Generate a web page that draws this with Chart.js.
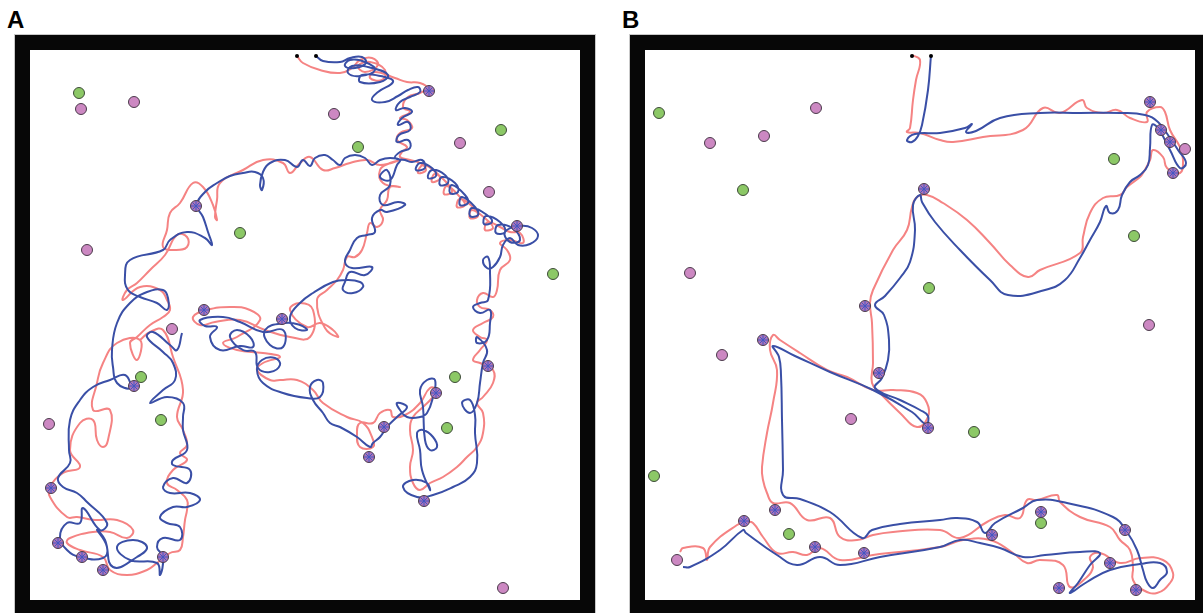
<!DOCTYPE html>
<html>
<head>
<meta charset="utf-8">
<script src="https://cdn.jsdelivr.net/npm/chart.js@4.4.1/dist/chart.umd.min.js"></script>
<style>
  body { margin: 0; background: #fff; width: 1203px; height: 613px; overflow: hidden; position: relative; }
  .label { position: absolute; font-family: "Liberation Sans", Arial, sans-serif; font-weight: bold; font-size: 24px; line-height: 24px; color: #000; }
  .arena { position: absolute; border: 15px solid #070707; box-shadow: 0 0 0 1px #c9c9c9; width: 550px; height: 550px; }
  .arena canvas { display: block; }
</style>
</head>
<body>
<div class="label" style="left:7px; top:8px;">A</div>
<div class="label" style="left:622px; top:8px;">B</div>
<div class="arena" style="left:15px; top:35px;"><canvas id="chartA" width="550" height="550"></canvas></div>
<div class="arena" style="left:630px; top:35px;"><canvas id="chartB" width="550" height="550"></canvas></div>

<script>
// Arena coordinates (0-550, origin top-left)

// ---- Panel A ----
const startA = [[267, 6], [286, 6]];
const greenA = [[49, 43], [328, 97], [471, 80], [210, 183], [523, 224], [111, 327], [425, 327], [131, 370], [417, 378]];
const pinkA = [[51, 59], [104, 52], [304, 64], [430, 93], [459, 142], [57, 200], [142, 279], [19, 374], [473, 538]];
const visitedA = [[399, 41], [166, 156], [487, 176], [174, 260], [252, 269], [458, 316], [104, 336], [406, 343],
  [354, 377], [339, 407], [21, 438], [394, 451], [28, 493], [52, 507], [73, 520], [133, 507]];

const blueA = [
  [286, 6], [293, 11], [310, 12], [320, 8], [332, 7], [336, 13], [325, 18], [315, 16], [320, 10], [335, 12],
  [345, 20], [330, 26], [318, 23], [322, 16], [342, 18], [358, 25], [350, 32], [330, 32], [332, 25], [355, 27],
  [363, 32], [348, 42], [342, 50], [355, 52], [368, 46], [378, 40], [388, 37], [390, 42], [380, 47], [370, 52],
  [366, 60], [375, 58], [382, 62], [372, 68], [368, 75], [378, 72], [380, 80], [369, 85], [367, 92], [378, 90],
  [380, 98], [370, 102], [365, 108], [375, 110],
  [382, 112], [392, 110], [395, 118], [386, 120], [390, 113], [402, 118], [406, 126], [398, 128], [402, 120],
  [415, 125], [418, 133], [410, 135], [412, 127], [425, 133], [428, 142], [420, 143], [422, 135], [435, 145],
  [438, 153], [430, 155], [432, 147], [445, 157], [448, 165], [440, 166], [442, 158], [457, 165], [462, 172],
  [454, 174], [456, 166], [470, 172], [475, 182], [466, 183], [468, 175], [482, 178], [490, 190], [480, 192],
  [475, 182], [490, 176], [502, 178], [508, 186], [500, 194], [488, 195], [480, 188], [473, 195],
  [470, 207], [463, 217], [457, 218], [453, 210], [458, 207], [460, 220], [458, 250], [450, 253], [443, 257],
  [450, 263], [460, 260], [460, 273], [457, 290], [447, 293], [447, 287], [457, 300], [453, 313], [450, 333],
  [447, 353], [440, 363], [432, 353], [440, 350], [445, 365], [445, 383], [447, 413], [440, 427], [423, 437],
  [403, 445], [387, 447], [373, 437], [383, 430], [397, 433], [400, 440], [392, 420], [390, 400], [387, 383],
  [393, 380], [403, 387], [407, 397], [400, 400], [395, 390], [393, 357], [390, 340], [397, 330], [405, 330],
  [403, 347], [397, 363], [390, 367], [377, 367], [370, 360], [367, 353], [377, 357], [367, 367], [357, 377],
  [350, 387], [343, 393], [340, 397], [327, 387], [310, 377], [300, 373], [293, 363], [283, 350], [280, 337],
  [287, 330], [293, 333], [290, 347], [277, 348], [253, 343], [233, 333], [227, 320], [232, 310], [245, 308],
  [250, 315], [240, 322], [228, 318],
  [225, 302], [213, 300], [200, 287], [207, 280], [220, 287], [223, 297], [210, 296], [190, 300], [180, 287],
  [187, 277], [175, 276], [170, 270], [193, 267], [210, 272], [233, 282], [253, 280], [253, 297], [240, 295],
  [235, 280], [255, 273], [270, 275], [277, 280], [265, 278], [260, 267], [270, 253], [283, 243], [303, 232],
  [317, 230], [330, 232], [333, 237], [323, 243], [313, 240], [315, 232], [320, 222], [335, 225], [342, 217],
  [322, 218], [315, 212], [320, 200], [327, 188], [337, 185], [345, 182], [342, 168], [350, 160], [357, 162],
  [375, 155], [368, 152], [353, 155], [350, 145], [360, 135], [357, 120], [350, 127], [360, 130], [367, 115],
  [370, 110],
  [360, 108], [350, 110], [342, 115], [335, 108], [325, 105], [315, 108], [310, 115], [303, 110], [295, 105],
  [285, 108], [280, 116], [273, 110], [267, 117], [255, 110], [240, 113], [233, 122], [230, 135], [232, 140],
  [233, 128], [225, 122], [213, 123], [200, 126], [187, 133], [175, 142], [167, 155], [173, 167], [178, 182],
  [182, 195], [175, 188], [157, 182], [140, 190], [133, 200], [100, 210], [95, 225], [98, 240], [110, 247],
  [127, 253], [137, 260], [138, 248], [133, 240], [117, 242], [100, 253], [87, 273], [82, 300], [83, 317],
  [87, 333], [100, 338], [95, 325], [80, 330], [63, 337], [50, 350], [40, 370], [39, 400], [40, 413], [28, 428],
  [33, 437], [47, 443], [57, 452], [77, 473], [70, 480], [53, 458], [50, 473], [37, 473], [30, 487], [37, 500],
  [50, 507], [73, 508], [77, 497], [67, 480], [75, 490], [83, 517], [107, 507], [117, 497], [103, 490], [87, 497],
  [100, 510], [127, 513], [130, 525], [133, 507], [127, 497], [133, 488], [150, 490], [150, 477], [137, 473],
  [130, 467], [143, 457], [157, 457], [170, 450], [160, 443], [140, 443], [133, 437], [143, 428], [157, 433],
  [160, 420], [143, 415], [143, 410], [157, 400], [153, 380], [153, 367], [153, 353], [137, 347], [120, 353],
  [133, 340], [145, 330], [143, 313], [133, 302], [117, 287], [123, 282], [140, 295], [147, 300], [152, 283]
];

const redA = [
  [267, 6], [273, 13], [290, 20], [310, 23], [322, 18], [330, 10], [342, 8], [348, 15], [335, 22], [328, 16],
  [340, 12], [355, 20], [352, 30], [340, 28], [345, 22], [365, 28], [377, 32], [390, 33], [397, 38], [390, 43],
  [378, 47], [373, 57], [380, 62], [370, 68], [377, 70], [382, 78], [370, 83], [367, 90], [377, 97], [372, 102],
  [370, 107],
  [380, 110], [390, 113], [396, 120], [388, 123], [393, 115], [403, 120], [410, 128], [402, 132], [405, 124],
  [417, 133], [422, 142], [414, 144], [417, 136], [430, 147], [435, 155], [427, 157], [430, 149], [443, 157],
  [448, 166], [440, 168], [442, 160], [457, 170], [463, 178], [455, 180], [458, 172], [470, 177], [480, 182],
  [490, 183], [493, 193], [480, 190], [470, 193], [477, 200], [480, 210], [470, 220], [467, 240], [463, 247],
  [453, 243], [447, 250], [450, 257], [460, 260], [463, 267], [453, 273], [443, 280], [450, 287], [457, 290],
  [450, 300], [443, 310], [450, 313], [463, 320], [463, 333], [453, 347], [447, 353], [453, 363], [453, 383],
  [447, 397], [437, 407], [427, 417], [413, 427], [400, 433], [390, 440], [383, 433], [380, 417], [383, 400],
  [380, 380], [383, 367], [393, 357], [403, 347], [407, 340], [400, 338], [390, 353], [375, 365], [363, 367],
  [360, 360], [350, 363], [343, 373], [330, 373], [327, 383], [330, 397], [343, 397], [342, 387], [333, 373],
  [317, 367], [293, 353], [283, 340], [267, 330], [250, 330], [240, 330], [227, 320], [233, 313], [250, 307],
  [233, 303], [207, 300], [193, 293], [207, 287], [230, 270], [220, 260], [200, 257], [177, 260], [163, 267],
  [170, 275], [185, 272], [210, 270], [235, 280], [260, 287], [280, 287], [283, 260], [270, 253], [260, 260],
  [277, 277], [290, 273], [303, 280], [308, 287], [295, 278], [287, 250], [297, 240], [307, 230], [313, 220],
  [317, 207], [325, 207], [332, 200], [337, 183], [340, 173], [347, 177], [353, 170], [350, 160], [357, 150],
  [360, 137], [370, 137], [353, 133], [350, 120], [360, 113], [370, 110],
  [350, 115], [337, 110], [320, 113], [305, 118], [293, 120], [280, 107], [270, 113], [260, 123], [253, 113],
  [233, 110], [213, 120], [190, 133], [187, 150], [185, 167], [187, 170], [183, 155], [173, 137], [163, 133],
  [150, 153], [140, 163], [137, 180], [133, 197], [145, 200], [157, 197], [157, 187], [147, 185], [135, 205],
  [120, 220], [107, 233], [97, 240], [93, 250], [110, 237], [130, 240], [137, 250], [140, 260], [133, 267],
  [120, 275], [107, 287], [100, 293], [107, 310], [110, 290], [87, 293], [73, 313], [67, 333], [63, 360],
  [80, 360], [78, 390], [73, 397], [67, 390], [63, 370], [50, 373], [40, 400], [50, 417], [33, 423], [20, 437],
  [20, 447], [37, 467], [47, 467], [65, 470], [87, 470], [103, 480], [97, 488], [80, 482], [63, 482], [40, 488],
  [37, 493], [50, 500], [73, 507], [80, 520], [97, 525], [117, 520], [127, 513], [140, 503], [150, 500],
  [153, 487], [155, 470], [157, 460], [157, 450], [147, 440], [137, 433], [143, 420], [157, 410], [150, 403],
  [157, 395], [153, 380], [147, 367], [153, 340], [143, 307], [133, 280], [120, 282], [110, 290]
];

// ---- Panel B ----
const startB = [[267, 6], [286, 6]];
const greenB = [[14, 63], [98, 140], [284, 238], [469, 109], [489, 186], [329, 382], [9, 426], [144, 484], [396, 473]];
const pinkB = [[171, 58], [65, 93], [119, 86], [45, 223], [77, 305], [206, 369], [504, 275], [540, 99], [32, 510]];
const visitedB = [[505, 52], [516, 80], [525, 92], [528, 123], [279, 139], [220, 256], [118, 290], [234, 323],
  [283, 378], [130, 460], [99, 471], [170, 497], [219, 503], [347, 485], [396, 462], [480, 480], [465, 513],
  [414, 538], [491, 540]];

const blueB = [
  [286, 5], [283, 40], [277, 75], [273, 86], [267, 92], [262, 90], [270, 84], [295, 83], [320, 78], [327, 74],
  [321, 82], [331, 81], [355, 68], [395, 63], [435, 63], [475, 63], [500, 65], [513, 72], [523, 85], [533, 100],
  [541, 113], [535, 118], [525, 100], [513, 78], [507, 75], [505, 98], [503, 115], [495, 125], [485, 132],
  [477, 145], [473, 160], [465, 163], [461, 156], [455, 172], [445, 190], [435, 208], [420, 230], [400, 240],
  [363, 245], [345, 230], [315, 200], [290, 172], [277, 152], [275, 145], [268, 155], [270, 180], [265, 212],
  [255, 228], [240, 246], [230, 255], [239, 265], [244, 290], [243, 310], [237, 328], [230, 338], [255, 350],
  [275, 360], [283, 366], [281, 374], [267, 362], [228, 340], [185, 322], [150, 306], [128, 296], [134, 307],
  [136, 325], [137, 370], [138, 420], [138, 445], [155, 449], [185, 462], [217, 488], [227, 480], [255, 474],
  [295, 470], [312, 468], [332, 472], [340, 483], [350, 473], [378, 458], [392, 450], [422, 453], [468, 467],
  [482, 482], [492, 500], [498, 520], [502, 532], [508, 538], [515, 530], [522, 522], [515, 513], [495, 514],
  [465, 520], [442, 532], [425, 543], [433, 533], [445, 515], [455, 503], [435, 502], [400, 505], [378, 507],
  [355, 498], [335, 493], [315, 490], [295, 497], [235, 507], [195, 515], [175, 507], [152, 515], [132, 505],
  [101, 483], [98, 480], [75, 500], [45, 517], [38, 517]
];

const redB = [
  [267, 5], [275, 10], [271, 30], [268, 50], [265, 78], [262, 82], [275, 83], [295, 90], [308, 92], [338, 87],
  [378, 80], [398, 58], [415, 63], [437, 50], [442, 58], [458, 63], [472, 60], [485, 68], [502, 72], [502, 62],
  [515, 57], [520, 62], [525, 80], [535, 97], [538, 110], [535, 123], [522, 118], [518, 107], [508, 100],
  [505, 110], [498, 123], [495, 127], [482, 137], [475, 145], [458, 148], [445, 163], [438, 187], [435, 203],
  [395, 220], [383, 227], [365, 215], [345, 193], [322, 170], [298, 153], [282, 145], [272, 147], [267, 157],
  [262, 180], [248, 200], [228, 240], [225, 253], [227, 273], [228, 313], [227, 333], [235, 343], [255, 363],
  [272, 377], [283, 367], [282, 353], [272, 343], [248, 340], [228, 340], [202, 327], [182, 320], [155, 303],
  [135, 290], [128, 285], [125, 300], [132, 320], [128, 353], [122, 383], [117, 417], [118, 430], [122, 443],
  [128, 453], [145, 453], [162, 470], [185, 468], [195, 487], [212, 490], [228, 485], [248, 482], [295, 480],
  [315, 488], [342, 472], [360, 465], [375, 468], [382, 450], [392, 450], [412, 445], [415, 452], [435, 467],
  [465, 477], [475, 490], [485, 500], [488, 517], [488, 530], [498, 540], [512, 543], [525, 533], [528, 523],
  [518, 510], [495, 508], [475, 513], [455, 503], [445, 507], [448, 517], [442, 527], [425, 537], [418, 515],
  [395, 510], [382, 513], [368, 503], [345, 490], [318, 490], [295, 497], [228, 505], [195, 510], [175, 498],
  [162, 505], [148, 502], [132, 503], [118, 487], [108, 473], [102, 472], [92, 475], [65, 497], [62, 510],
  [58, 498], [38, 498], [35, 502]
];

const BLUE = '#3a4fa6';
const RED = '#f58383';

function pts(list) {
  return list.map(p => ({ x: p[0], y: p[1] }));
}

function makeArena(canvasId, start, green, pink, visited, blue, red) {
  new Chart(document.getElementById(canvasId), {
    type: 'scatter',
    data: {
      datasets: [
        // crosses on visited wells
        { data: pts(visited), pointStyle: 'star', pointRadius: 5, borderColor: '#4356c4', borderWidth: 1,
          backgroundColor: 'transparent', order: 0 },
        { data: pts(visited), pointRadius: 5.5, backgroundColor: '#ad74b8', borderColor: '#4a3a4a', borderWidth: 1, order: 1 },
        { data: pts(pink), pointRadius: 5.5, backgroundColor: '#cc88c2', borderColor: '#4a3a4a', borderWidth: 1, order: 1 },
        { data: pts(green), pointRadius: 5.5, backgroundColor: '#8cc866', borderColor: '#3d4a38', borderWidth: 1, order: 1 },
        { data: pts(start), pointRadius: 2, backgroundColor: '#000', borderColor: '#000', borderWidth: 0, order: 1 },
        { data: pts(blue), showLine: true, tension: 0.45, pointRadius: 0, borderColor: BLUE, borderWidth: 2, order: 2 },
        { data: pts(red), showLine: true, tension: 0.45, pointRadius: 0, borderColor: RED, borderWidth: 2, order: 3 }
      ]
    },
    options: {
      responsive: false,
      animation: false,
      layout: { padding: 0, autoPadding: false },
      plugins: { legend: { display: false }, tooltip: { enabled: false } },
      scales: {
        x: { type: 'linear', min: 0, max: 550, display: false },
        y: { type: 'linear', min: 0, max: 550, reverse: true, display: false }
      }
    }
  });
}

makeArena('chartA', startA, greenA, pinkA, visitedA, blueA, redA);
makeArena('chartB', startB, greenB, pinkB, visitedB, blueB, redB);
</script>
</body>
</html>
